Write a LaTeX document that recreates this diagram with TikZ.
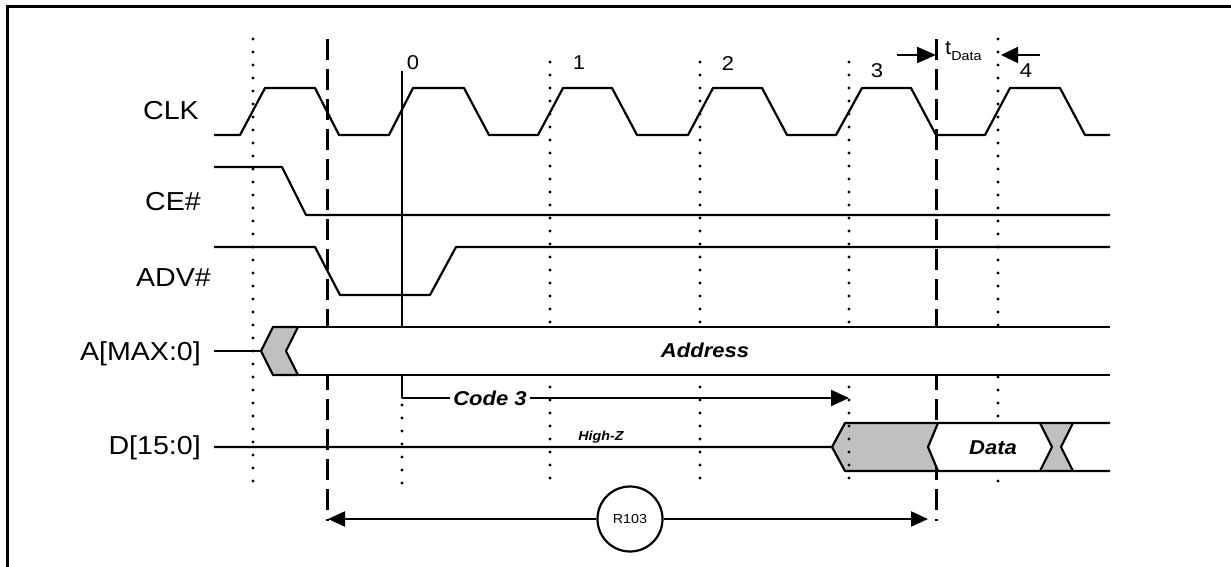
\documentclass[tikz,border=0pt]{standalone}
\usepackage{fontspec}
\setmainfont{Liberation Sans}[FakeStretch=1.1]
\usetikzlibrary{arrows.meta}
\definecolor{silv}{RGB}{192,192,192}
\begin{document}
\begin{tikzpicture}[x=1pt,y=-1pt,
  sig/.style={line width=2.2pt, line join=round},
  dotv/.style={line width=3.4pt, line cap=round, dash pattern=on 0pt off 13pt},
  dashv/.style={line width=3pt, dash pattern=on 21pt off 9pt},
  lab/.style={font=\fontsize{26}{30}\selectfont, anchor=base east, inner sep=0pt},
  num/.style={font=\fontsize{20}{24}\selectfont, inner sep=0pt},
  bi/.style={font=\fontsize{20}{24}\selectfont\bfseries\itshape, inner sep=0pt},
  tip/.style={-{Triangle[length=18pt,width=16pt]}}]
\useasboundingbox (0,0) rectangle (1231,567);
% frame
\draw[line width=3pt] (5.5,7) -- (1231,7);
\draw[line width=3pt] (7,7) -- (7,567);
% signal labels
\node[lab] (lclk) at (199,120) {CLK};
\node[lab] (lce) at (201,210) {CE\#};
\node[lab] (ladv) at (211,286) {ADV\#};
\node[lab] (laddr) at (201,360) {A[MAX:0]};
\node[lab] (ldat) at (201,454) {D[15:0]};
% gray fills of D bus (under the vertical lines)
\fill[silv] (832,447) -- (845,423) -- (938,423) -- (928,447) -- (938,471) -- (845,471) -- cycle;
\fill[silv] (1040,423) -- (1073,423) -- (1061,447) -- (1073,471) -- (1040,471) -- (1052,447) -- cycle;
% vertical reference lines
\draw[dotv] (253,39) -- (253,490);
\draw[dotv] (550,62) -- (550,490);
\draw[dotv] (700,62) -- (700,490);
\draw[dotv] (849,62) -- (849,490);
\draw[dotv] (998,39) -- (998,490);
\draw[dotv] (402,405) -- (402,490);
\draw[dashv] (327,39) -- (327,521);
\draw[dashv] (936,39) -- (936,521);
\draw[line width=2.2pt] (402,71) -- (402,327);
% cycle numbers
\node[num] (n0) at (413,63) {0};
\node[num] (n1) at (579,63) {1};
\node[num] (n2) at (728,64) {2};
\node[num] (n3) at (877,71) {3};
\node[num] (n4) at (1026,71) {4};
% CLK
\draw[sig] (214,135) -- (240,135) -- (265,88) -- (315,88) -- (339,135) -- (389,135)
  -- (413,88) -- (464,88) -- (489,135) -- (538,135) -- (563,88) -- (612,88)
  -- (637,135) -- (688,135) -- (713,88) -- (762,88) -- (787,135) -- (836,135)
  -- (862,88) -- (911,88) -- (936,135) -- (985,135) -- (1010,88) -- (1060,88)
  -- (1085,135) -- (1110,135);
% CE#
\draw[sig] (214,167) -- (282,167) -- (306,215) -- (1110,215);
% ADV#
\draw[sig] (214,247) -- (315,247) -- (340,295) -- (430,295) -- (456,247) -- (1110,247);
% A bus
\fill[white] (261,351) -- (273,327) -- (1110,327) -- (1110,375) -- (273,375) -- cycle;
\draw[sig] (214,351) -- (261,351);
\draw[sig, fill=silv] (261,351) -- (273,327) -- (298,327) -- (286,351) -- (298,375) -- (273,375) -- cycle;
\draw[sig] (298,327) -- (1110,327);
\draw[sig] (298,375) -- (1110,375);
\node[bi, anchor=base] (addr) at (705,357) {Address};
% Code 3
\coordinate (c3a) at (402,375);
\coordinate (c3b) at (849,398);
\node[bi, anchor=base, inner sep=3pt] (code3) at (490,405) {Code 3};
\draw[sig] (c3a) -- (402,398) -- (code3.west |- c3b);
\draw[sig, tip] (code3.east |- c3b) -- (c3b);
% D bus
\fill[white] (938,423) -- (1040,423) -- (1052,447) -- (1040,471) -- (938,471) -- (928,447) -- cycle;
\draw[sig] (214,447) -- (832,447) -- (845,423) -- (1110,423);
\draw[sig] (832,447) -- (845,471) -- (1110,471);
\draw[sig] (938,423) -- (928,447) -- (938,471);
\draw[sig] (1040,423) -- (1052,447) -- (1040,471);
\draw[sig] (1073,423) -- (1061,447) -- (1073,471);
\node[bi, anchor=base] (data) at (993,454) {Data};
\node[font=\fontsize{13}{15}\selectfont\bfseries\itshape, anchor=base, inner sep=0pt] (hiz) at (601,440) {High-Z};
% R103
\node[draw, circle, line width=2.2pt, minimum size=65pt, inner sep=0pt, font=\fontsize{13}{15}\selectfont] (r103) at (630,519) {R103};
\coordinate (rl) at (328,519);
\coordinate (rr) at (928,519);
\draw[sig, -{Triangle[length=17pt,width=15pt]}] (r103) -- (rl);
\draw[sig, -{Triangle[length=17pt,width=15pt]}] (r103) -- (rr);
% tData
\coordinate (ta) at (897,55);
\coordinate (tb) at (936,55);
\coordinate (tc) at (1040,55);
\coordinate (td) at (1001,55);
\draw[sig, -{Triangle[length=19pt,width=16pt]}] (ta) -- (tb);
\draw[sig, -{Triangle[length=17pt,width=16pt]}] (tc) -- (td);
\node[anchor=base west, inner sep=0pt] (tdata) at (945,55) {\fontsize{20}{24}\selectfont t\raisebox{-6pt}{\fontsize{13}{15}\selectfont Data}};
\end{tikzpicture}
\end{document}
